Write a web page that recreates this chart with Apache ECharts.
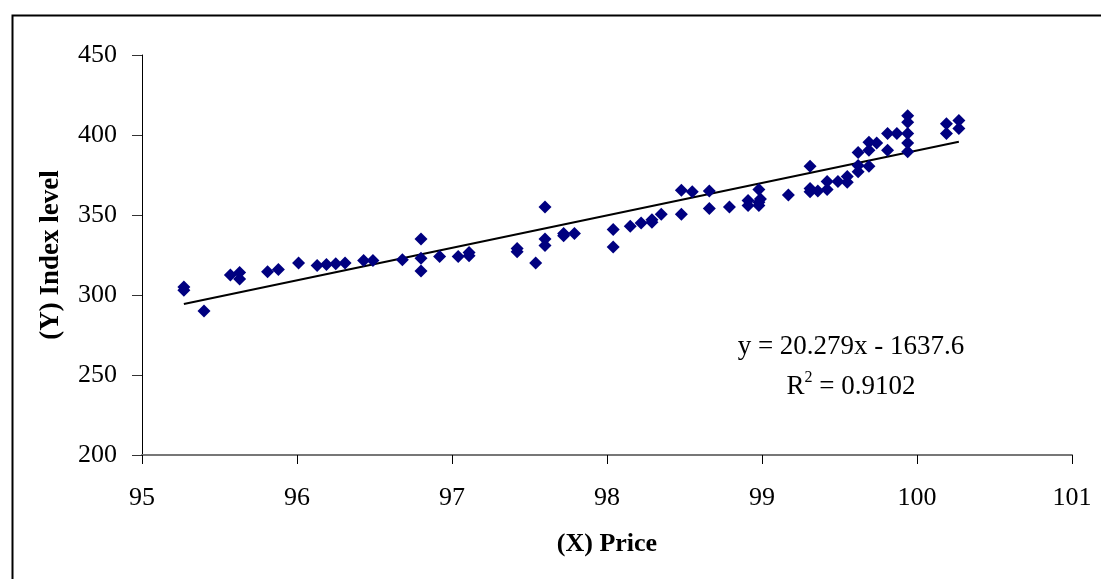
<!DOCTYPE html>
<html>
<head>
<meta charset="utf-8">
<script src="https://cdn.jsdelivr.net/npm/echarts@6/dist/echarts.min.js"></script>
<style>
html,body{margin:0;padding:0;background:#fff;}
#chart{width:1101px;height:579px;}
</style>
</head>
<body>
<div id="chart"></div>
<script>
// X: Price
var priceX = [
  95.27, 95.27, 95.40, 95.57, 95.63, 95.63, 95.81, 95.88, 96.01, 96.13,
  96.19, 96.25, 96.31, 96.43, 96.49, 96.68, 96.80, 96.80, 96.80, 96.92,
  97.04, 97.11, 97.11, 97.42, 97.42, 97.54, 97.60, 97.60, 97.60, 97.72,
  97.72, 97.79, 98.04, 98.04, 98.15, 98.22, 98.29, 98.29, 98.35, 98.48,
  98.48, 98.55, 98.66, 98.66, 98.79, 98.91, 98.91, 98.98, 98.98, 98.98,
  98.99, 99.17, 99.31, 99.31, 99.31, 99.36, 99.42, 99.42, 99.49, 99.55,
  99.55, 99.62, 99.62, 99.62, 99.69, 99.69, 99.69, 99.74, 99.81, 99.81,
  99.87, 99.94, 99.94, 99.94, 99.94, 99.94, 100.19, 100.19, 100.27, 100.27
];
// Y: Index level
var indexY = [
  305, 303, 290, 312.5, 314, 310, 314.5, 316, 320, 318.5,
  319, 319.5, 320, 321.5, 321.5, 322, 335, 323, 315, 324,
  324, 326.5, 324.5, 329, 327, 320, 355, 335, 331, 338.5,
  337, 338.5, 341, 330, 343, 345, 347, 345.5, 350.5, 350.5,
  365.5, 364.5, 365, 354, 355, 356, 359, 358, 356, 366,
  360, 362.5, 380.5, 366.5, 364.5, 365, 371, 366, 371, 374,
  370.5, 389, 381, 377, 395.5, 390.5, 380.5, 395, 401, 390.5,
  401, 412, 408, 401, 395, 389.5, 407, 401, 409, 404
];
// Trendline as reported on the chart
var trendSlope = 20.279;
var trendIntercept = -1637.6;
var trendR2 = 0.9102;
var xTicks = [95, 96, 97, 98, 99, 100, 101];
var yTicks = [200, 250, 300, 350, 400, 450];

var points = priceX.map(function (x, i) { return [x, indexY[i]]; });
var xMin = Math.min.apply(null, priceX), xMax = Math.max.apply(null, priceX);
var trend = [[xMin, trendSlope * xMin + trendIntercept], [xMax, trendSlope * xMax + trendIntercept]];

var FONT = "'Liberation Serif','Times New Roman',serif";
var chart = echarts.init(document.getElementById('chart'), null, {renderer: 'canvas'});
chart.setOption({
  backgroundColor: '#fff',
  animation: false,
  grid: {left: 142, right: 29, top: 55, bottom: 124, containLabel: false},
  xAxis: {
    type: 'value', min: xTicks[0], max: xTicks[xTicks.length - 1], interval: 1,
    name: '(X) Price', nameLocation: 'middle', nameGap: 76,
    nameTextStyle: {fontFamily: FONT, fontSize: 26, fontWeight: 'bold', color: '#000'},
    axisLine: {show: true, onZero: false, lineStyle: {color: '#777', width: 2}},
    axisTick: {show: true, length: 9, lineStyle: {color: '#000', width: 1}},
    axisLabel: {fontFamily: FONT, fontSize: 26, color: '#000', margin: 30},
    splitLine: {show: false}
  },
  yAxis: {
    type: 'value', min: yTicks[0], max: yTicks[yTicks.length - 1], interval: 50,
    name: '(Y) Index level', nameLocation: 'middle', nameGap: 77, nameRotate: 90,
    nameTextStyle: {fontFamily: FONT, fontSize: 27, fontWeight: 'bold', color: '#000'},
    axisLine: {show: true, onZero: false, lineStyle: {color: '#000', width: 1}},
    axisTick: {show: true, length: 10, lineStyle: {color: '#333', width: 1}},
    axisLabel: {fontFamily: FONT, fontSize: 26, color: '#000', margin: 25},
    splitLine: {show: false}
  },
  series: [
    {
      type: 'scatter', data: points, symbol: 'diamond', symbolSize: 13,
      itemStyle: {color: '#000080', opacity: 1}, z: 3
    },
    {
      type: 'line', data: trend, showSymbol: false, symbol: 'none',
      lineStyle: {color: '#000', width: 2}, z: 2, silent: true
    }
  ],
  graphic: [
    {type: 'rect', left: 10, top: 13, shape: {width: 1300, height: 800},
     style: {fill: 'none', stroke: '#000', lineWidth: 2}, z: -10, silent: true},
    {type: 'text', x: 851, y: 347,
     style: {text: 'y = ' + trendSlope + 'x - ' + Math.abs(trendIntercept), font: '27px ' + FONT,
             fill: '#000', align: 'center', verticalAlign: 'middle'}},
    {type: 'text', x: 851, y: 385,
     style: {text: '{r|R}{s|2}{r| = ' + trendR2 + '}', fill: '#000', align: 'center', verticalAlign: 'middle',
             rich: {r: {fontFamily: FONT, fontSize: 27, lineHeight: 30, verticalAlign: 'bottom'},
                    s: {fontFamily: FONT, fontSize: 16, lineHeight: 30, verticalAlign: 'top'}}}}
  ]
});
</script>
</body>
</html>
